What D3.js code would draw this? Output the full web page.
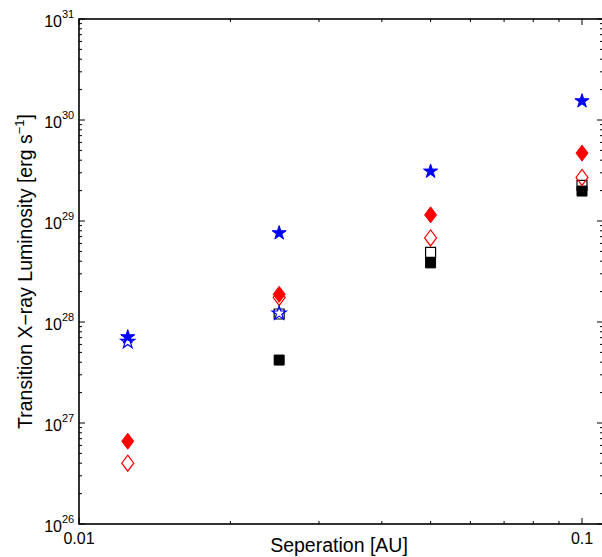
<!DOCTYPE html>
<html>
<head>
<meta charset="utf-8">
<script src="https://cdn.jsdelivr.net/npm/d3@7"></script>
<style>
  body { margin: 0; background: #fff; }
  text { font-family: "Liberation Sans", Arial, sans-serif; }
</style>
</head>
<body>
<svg id="mainsvg" width="602" height="557"></svg>
<script>
// separations [AU]
const sep = [0.0125, 0.025, 0.05, 0.1];

// transition luminosities [erg/s]
const starFilled = [7.1e27, 7.6e28, 3.1e29, 1.54e30];
const starOpen = [6.4e27, 1.22e28, null, null];
const diamFilled = [6.6e26, 1.88e28, 1.15e29, 4.7e29];
const diamOpen = [4.0e26, 1.75e28, 6.8e28, 2.7e29];
const sqOpen = [null, 1.2e28, 4.9e28, 2.25e29];
const sqFilled = [null, 4.2e27, 3.85e28, 1.98e29];

const yTicks = [1e26, 1e27, 1e28, 1e29, 1e30, 1e31];
const xTicks = [0.01, 0.1];

const svg = d3.select('#mainsvg');
const margin = { left: 79, right: 603, top: 19, bottom: 524 };

const x = d3.scaleLog().domain([0.01, 0.11]).range([margin.left, margin.left + 503 * Math.log10(11)]);
const y = d3.scaleLog().domain([1e26, 1e31]).range([margin.bottom, margin.top]);

const g = svg.append('g');

// minor ticks
const xMinor = d3.range(2, 10).map(d => d * 0.01);
const yMinor = [];
for (let e = 26; e < 31; e++) for (let m = 2; m < 10; m++) yMinor.push(m * Math.pow(10, e));

const tick = (x1, y1, x2, y2) => g.append('line')
  .attr('x1', x1).attr('y1', y1).attr('x2', x2).attr('y2', y2)
  .attr('stroke', '#000').attr('stroke-width', 1);

xTicks.concat(xMinor).forEach(v => {
  const len = xTicks.includes(v) ? 6 : 3;
  tick(x(v), margin.bottom, x(v), margin.bottom - len);
  tick(x(v), margin.top, x(v), margin.top + len);
});
yTicks.concat(yMinor).forEach(v => {
  const len = yTicks.includes(v) ? 6 : 3;
  tick(margin.left, y(v), margin.left + len, y(v));
  tick(margin.right, y(v), margin.right - len, y(v));
});

// box
g.append('rect')
  .attr('x', margin.left).attr('y', margin.top)
  .attr('width', margin.right - margin.left).attr('height', margin.bottom - margin.top)
  .attr('fill', 'none').attr('stroke', '#000').attr('stroke-width', 1.6);

// tick labels
yTicks.forEach(v => {
  g.append('text').text('10')
    .attr('x', 62).attr('y', y(v) + 8)
    .attr('text-anchor', 'end').attr('font-size', 16);
  g.append('text').text(Math.round(Math.log10(v)))
    .attr('x', 62).attr('y', y(v) - 1)
    .attr('font-size', 11);
});
xTicks.forEach(v => {
  g.append('text').text(v)
    .attr('x', x(v)).attr('y', 544)
    .attr('text-anchor', 'middle').attr('font-size', 16);
});

// axis labels
g.append('text').text('Seperation [AU]')
  .attr('x', 339).attr('y', 552)
  .attr('text-anchor', 'middle').attr('font-size', 19.5);

const yl = g.append('text')
  .attr('transform', `translate(32,${(margin.top + margin.bottom) / 2}) rotate(-90)`)
  .attr('text-anchor', 'middle').attr('font-size', 19.5);
yl.append('tspan').text('Transition X\u2212ray Luminosity [erg s');
yl.append('tspan').text('\u22121').attr('font-size', 13).attr('dy', -8);
yl.append('tspan').text(']').attr('dy', 8);

// markers
const diamond = (w, h) => `M0,${-h / 2}L${w / 2},0L0,${h / 2}L${-w / 2},0Z`;
const square = s => `M${-s / 2},${-s / 2}h${s}v${s}h${-s}Z`;
const star = d3.symbol(d3.symbolStar, 62)();

function series(vals, path, color, filled, sw) {
  sep.forEach((s, i) => {
    if (vals[i] == null) return;
    g.append('path')
      .attr('d', path)
      .attr('transform', `translate(${x(s)},${y(vals[i])})`)
      .attr('fill', filled ? color : 'none')
      .attr('stroke', color)
      .attr('stroke-width', sw);
  });
}

series(sqFilled, square(10), '#000', true, 1);
series(sqOpen, square(10), '#000', false, 1.2);
series(diamFilled, diamond(12, 16), '#ff0000', true, 1);
series(diamOpen, diamond(12, 16), '#ff0000', false, 1.2);
series(starFilled, star, '#0000ff', true, 1);
series(starOpen, star, '#0000ff', false, 1.2);
</script>
</body>
</html>
